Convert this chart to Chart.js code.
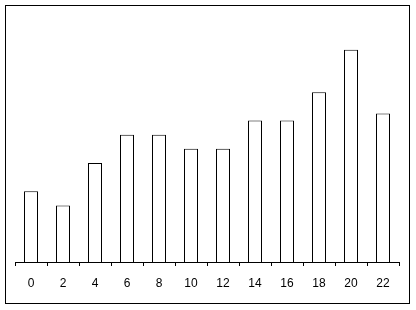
<!DOCTYPE html>
<html>
<head>
<meta charset="utf-8">
<script src="https://cdn.jsdelivr.net/npm/chart.js@4"></script>
<style>
  html, body { margin: 0; padding: 0; background: #fff; }
  #wrap { position: relative; width: 416px; height: 310px; }
  #frame { position: absolute; left: 5px; top: 5px; width: 403px; height: 297px; border: 1px solid #000; box-sizing: content-box; pointer-events: none; }
</style>
</head>
<body>
<div id="wrap">
  <canvas id="myChart" width="416" height="310"></canvas>
  <div id="frame"></div>
</div>
<script>
const categories = ["0", "2", "4", "6", "8", "10", "12", "14", "16", "18", "20", "22"];
const values = [5, 4, 7, 9, 9, 8, 8, 10, 10, 12, 15, 10.5];

const ctx = document.getElementById("myChart");
const myChart = new Chart(ctx, {
  type: "bar",
  data: {
    labels: categories,
    datasets: [
      {
        data: values,
        backgroundColor: "#ffffff",
        borderColor: "#000000",
        borderWidth: 1,
        barPercentage: 0.4375,
        categoryPercentage: 1
      }
    ]
  },
  options: {
    responsive: false,
    animation: false,
    // chart area: x 15..399 (12 x 32px), y 21.5..262
    layout: { padding: { left: 15, right: 17, top: 21.5, bottom: 18 } },
    plugins: { legend: { display: false }, tooltip: { enabled: false } },
    scales: {
      x: {
        afterFit: (scale) => { scale.height = 30; },
        grid: { offset: true, drawOnChartArea: false, drawTicks: true, tickLength: 4, color: "#000" },
        border: { display: true, color: "#000", width: 1 },
        ticks: { color: "#000", font: { family: "Liberation Sans", size: 12 }, padding: 10, maxRotation: 0, autoSkip: false }
      },
      y: {
        display: false,
        min: 0,
        max: 17
      }
    }
  }
});
</script>
</body>
</html>
